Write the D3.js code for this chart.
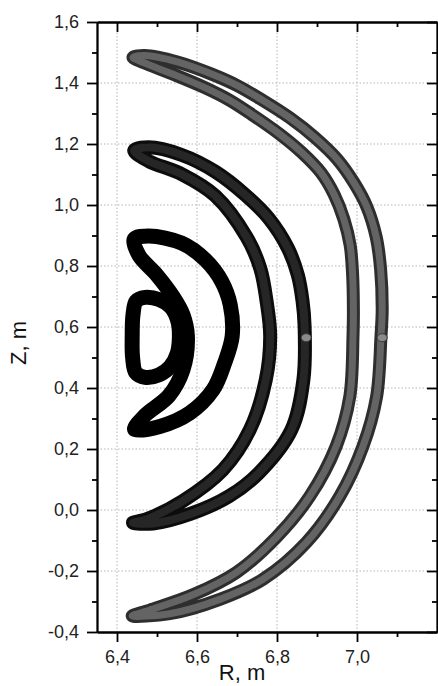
<!DOCTYPE html>
<html>
<head>
<meta charset="utf-8">
<script src="https://cdn.jsdelivr.net/npm/d3@7"></script>
<style>
  body { margin: 0; background: #fff; }
  svg { display: block; font-family: "Liberation Sans", Arial, sans-serif; }
</style>
</head>
<body>
<svg id="chart" width="438" height="686"></svg>
<script>
// axis setup
const xDomain = [6.35, 7.2];
const yDomain = [-0.4, 1.6];
const xMajor = [6.4, 6.6, 6.8, 7.0];
const xMinor = [6.5, 6.7, 6.9, 7.1];
const yMajor = [-0.4, -0.2, 0.0, 0.2, 0.4, 0.6, 0.8, 1.0, 1.2, 1.4, 1.6];
const yMinor = [-0.3, -0.1, 0.1, 0.3, 0.5, 0.7, 0.9, 1.1, 1.3, 1.5];

// traced island boundaries, [R, Z] in metres
const island1 = [
  [6.470, 0.697], [6.505, 0.690], [6.535, 0.665], [6.552, 0.620], [6.556, 0.570],
  [6.551, 0.515], [6.533, 0.470], [6.505, 0.443], [6.470, 0.435], [6.447, 0.450],
  [6.439, 0.500], [6.438, 0.570], [6.440, 0.640], [6.448, 0.685]
];
const island2 = [
  [6.443, 0.888], [6.480, 0.898], [6.562, 0.875], [6.621, 0.820], [6.662, 0.749],
  [6.683, 0.673], [6.688, 0.570], [6.669, 0.482], [6.640, 0.394], [6.582, 0.318],
  [6.507, 0.274], [6.444, 0.264], [6.470, 0.310], [6.530, 0.375], [6.565, 0.460],
  [6.576, 0.570], [6.565, 0.640], [6.540, 0.700], [6.500, 0.770], [6.455, 0.835]
];
const island3 = [
  [6.443, 1.178], [6.479, 1.189], [6.562, 1.164], [6.646, 1.109], [6.721, 1.033],
  [6.779, 0.957], [6.827, 0.859], [6.852, 0.771], [6.864, 0.684], [6.869, 0.603],
  [6.866, 0.427], [6.836, 0.263], [6.755, 0.122], [6.680, 0.045], [6.585, -0.012],
  [6.490, -0.044], [6.440, -0.042], [6.475, -0.030], [6.565, 0.030], [6.665, 0.132],
  [6.732, 0.263], [6.772, 0.427], [6.783, 0.570], [6.774, 0.684], [6.758, 0.793],
  [6.724, 0.895], [6.646, 1.030], [6.562, 1.101], [6.479, 1.144]
];
const island4 = [
  [6.440, 1.484], [6.470, 1.490], [6.551, 1.469], [6.635, 1.430], [6.700, 1.392],
  [6.762, 1.345], [6.833, 1.285], [6.895, 1.221], [6.950, 1.151], [6.993, 1.072],
  [7.025, 0.993], [7.048, 0.895], [7.059, 0.790], [7.063, 0.659], [7.060, 0.570],
  [7.049, 0.372], [7.015, 0.209], [6.957, 0.045], [6.873, -0.107], [6.765, -0.227],
  [6.657, -0.293], [6.532, -0.340], [6.438, -0.347], [6.482, -0.328], [6.590, -0.278],
  [6.698, -0.205], [6.798, -0.090], [6.882, 0.045], [6.948, 0.209], [6.982, 0.372],
  [6.990, 0.570], [6.991, 0.648], [6.989, 0.773], [6.983, 0.867], [6.967, 0.954],
  [6.943, 1.034], [6.910, 1.106], [6.862, 1.172], [6.805, 1.234], [6.739, 1.295],
  [6.681, 1.344], [6.621, 1.384], [6.542, 1.428], [6.466, 1.467]
];
const markers = [[6.873, 0.565], [7.063, 0.565]];

const plotLeft = 97, plotRight = 437, plotTop = 22, plotBottom = 632;

const svg = d3.select("#chart");
const x = d3.scaleLinear().domain(xDomain).range([plotLeft, plotRight]);
const y = d3.scaleLinear().domain(yDomain).range([plotBottom, plotTop]);
const fmt = d => d.toFixed(1).replace(".", ",");

// grid
const grid = svg.append("g").attr("stroke", "#b5b5b5").attr("stroke-width", 1)
  .attr("stroke-dasharray", "1.5,2");
grid.selectAll(".gx").data(xMajor).enter().append("line")
  .attr("x1", d => x(d)).attr("x2", d => x(d)).attr("y1", plotTop).attr("y2", plotBottom);
grid.selectAll(".gy").data(yMajor.filter(d => d > -0.4 && d < 1.6)).enter().append("line")
  .attr("y1", d => y(d)).attr("y2", d => y(d)).attr("x1", plotLeft).attr("x2", plotRight);

// islands
const line = d3.line().x(d => x(d[0])).y(d => y(d[1]))
  .curve(d3.curveCatmullRomClosed.alpha(0.5));

const bands = [
  { pts: island4, outer: "#2e2e2e", inner: "#646464", w: 13 },
  { pts: island3, outer: "#0c0c0c", inner: "#262626", w: 14 },
  { pts: island2, outer: "#000", inner: "#000", w: 15 },
  { pts: island1, outer: "#000", inner: "#000", w: 15 }
];
const g = svg.append("g").attr("fill", "none").attr("stroke-linejoin", "round");
bands.forEach(b => {
  g.append("path").attr("d", line(b.pts)).attr("stroke", b.outer).attr("stroke-width", b.w);
  g.append("path").attr("d", line(b.pts)).attr("stroke", b.inner).attr("stroke-width", b.w - 6);
});
g.selectAll("ellipse").data(markers).enter().append("ellipse")
  .attr("cx", d => x(d[0])).attr("cy", d => y(d[1]))
  .attr("rx", 5).attr("ry", 4).attr("stroke", "#3a3a3a").attr("stroke-width", 1)
  .attr("fill", "#8a8a8a");

// axes
function styleAxis(sel) {
  sel.select(".domain").attr("stroke", "#000").attr("stroke-width", 1.8);
  sel.selectAll(".tick line").attr("stroke", "#000").attr("stroke-width", 1.8);
  sel.selectAll("text").attr("font-size", 18).attr("fill", "#222")
    .attr("font-family", "Liberation Sans, Arial, sans-serif");
}
svg.append("g").attr("transform", `translate(0,${plotBottom})`)
  .call(d3.axisBottom(x).tickValues(xMinor).tickSize(5).tickSizeOuter(0).tickFormat(""))
  .call(styleAxis);
svg.append("g").attr("transform", `translate(0,${plotBottom})`)
  .call(d3.axisBottom(x).tickValues(xMajor).tickSize(10).tickSizeOuter(0).tickPadding(8).tickFormat(fmt))
  .call(styleAxis);
svg.append("g").attr("transform", `translate(0,${plotTop})`)
  .call(d3.axisBottom(x).tickValues(xMinor).tickSize(5).tickSizeOuter(0).tickFormat(""))
  .call(styleAxis);
svg.append("g").attr("transform", `translate(0,${plotTop})`)
  .call(d3.axisBottom(x).tickValues(xMajor).tickSize(10).tickSizeOuter(0).tickFormat(""))
  .call(styleAxis);
svg.append("g").attr("transform", `translate(${plotLeft},0)`)
  .call(d3.axisLeft(y).tickValues(yMinor).tickSize(5).tickSizeOuter(0).tickFormat(""))
  .call(styleAxis);
svg.append("g").attr("transform", `translate(${plotLeft},0)`)
  .call(d3.axisLeft(y).tickValues(yMajor).tickSize(10).tickSizeOuter(0).tickPadding(8).tickFormat(fmt))
  .call(styleAxis);
svg.append("g").attr("transform", `translate(${plotRight},0)`)
  .call(d3.axisLeft(y).tickValues(yMinor).tickSize(5).tickSizeOuter(0).tickFormat(""))
  .call(styleAxis);
svg.append("g").attr("transform", `translate(${plotRight},0)`)
  .call(d3.axisLeft(y).tickValues(yMajor).tickSize(10).tickSizeOuter(0).tickFormat(""))
  .call(styleAxis);

// titles
svg.append("text").attr("x", 242).attr("y", 680).attr("text-anchor", "middle")
  .attr("font-size", 22).attr("fill", "#111").text("R, m");
svg.append("text").attr("transform", "translate(26,343) rotate(-90)").attr("text-anchor", "middle")
  .attr("font-size", 22).attr("fill", "#111").text("Z, m");
</script>
</body>
</html>
